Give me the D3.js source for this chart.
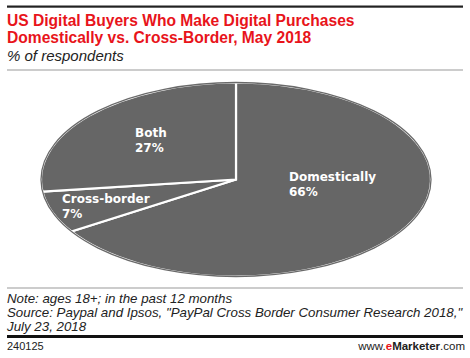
<!DOCTYPE html>
<html lang="en">
<head>
<meta charset="UTF-8">
<title>US Digital Buyers Who Make Digital Purchases</title>
<script src="https://d3js.org/d3.v7.min.js"></script>
<style>
  body { margin: 0; background: #fff; }
  svg { display: block; font-family: "Liberation Sans", Arial, sans-serif; }
</style>
</head>
<body>
<svg width="470" height="358"></svg>
<script>
  // data
  const categories = ["Domestically", "Cross-border", "Both"];
  const values = [66, 7, 27];
  const titleLines = ["US Digital Buyers Who Make Digital Purchases",
                      "Domestically vs. Cross-Border, May 2018"];
  const subtitle = "% of respondents";
  const notes = ["Note: ages 18+; in the past 12 months",
                 "Source: Paypal and Ipsos, \"PayPal Cross Border Consumer Research 2018,\"",
                 "July 23, 2018"];

  const svg = d3.select("svg");
  const W = 470;

  // header
  svg.append("rect").attr("x", 7).attr("y", 5.5).attr("width", W - 14).attr("height", 2.2).attr("fill", "#222");
  svg.selectAll(".title").data(titleLines).enter().append("text")
    .attr("x", 7).attr("y", (d, i) => 26 + i * 17)
    .attr("fill", "#e8141b").attr("font-weight", "bold").attr("font-size", "15.6px")
    .text(d => d);
  svg.append("text").attr("x", 7).attr("y", 61)
    .attr("font-style", "italic").attr("font-size", "15px").attr("fill", "#222")
    .text(subtitle);
  svg.append("rect").attr("x", 7).attr("y", 69.5).attr("width", W - 14).attr("height", 1).attr("fill", "#999");

  // pie (flattened into an ellipse)
  const cx = 236, cy = 179.5, rx = 195, ry = 97;
  const pie = d3.pie().sort(null).value(d => d);
  const arcs = pie(values);
  const arc = d3.arc().innerRadius(0).outerRadius(ry);

  const g = svg.append("g").attr("transform", `translate(${cx},${cy}) scale(${rx / ry},1)`);
  g.selectAll("path").data(arcs).enter().append("path")
    .attr("d", arc)
    .attr("fill", "#666666")
    .attr("stroke", "#fff").attr("stroke-width", 2.2)
    .attr("stroke-linejoin", "miter")
    .attr("vector-effect", "non-scaling-stroke");

  // outer edge redrawn without white border
  g.append("ellipse").attr("cx", 0).attr("cy", 0).attr("rx", ry).attr("ry", ry)
    .attr("fill", "none").attr("stroke", "#6a6a6a").attr("stroke-width", 1.3)
    .attr("vector-effect", "non-scaling-stroke");

  // label placement (left x, first baseline)
  const labelPos = { "Domestically": [289, 181], "Cross-border": [62, 203], "Both": [135, 137] };
  arcs.forEach((a, i) => {
    const [lx, ly] = labelPos[categories[i]];
    const t = svg.append("text").attr("x", lx).attr("y", ly)
      .attr("fill", "#fff").attr("font-weight", "bold").attr("font-size", "12px")
      .attr("font-family", "'DejaVu Sans', sans-serif");
    t.append("tspan").attr("x", lx).text(categories[i]);
    t.append("tspan").attr("x", lx).attr("dy", 15).text(values[i] + "%");
  });

  // footer
  svg.append("rect").attr("x", 7).attr("y", 287.5).attr("width", W - 14).attr("height", 1).attr("fill", "#999");
  svg.selectAll(".note").data(notes).enter().append("text")
    .attr("x", 7).attr("y", (d, i) => 303 + i * 13.8)
    .attr("font-style", "italic").attr("font-size", "13.3px").attr("fill", "#222")
    .text(d => d);
  svg.append("rect").attr("x", 7).attr("y", 335).attr("width", W - 14).attr("height", 3).attr("fill", "#111");
  svg.append("text").attr("x", 7).attr("y", 350).attr("font-size", "11px").attr("fill", "#222").text("240125");
  const brand = svg.append("text").attr("x", W - 5).attr("y", 350).attr("text-anchor", "end")
    .attr("font-size", "11.5px").attr("fill", "#222");
  brand.append("tspan").text("www.");
  brand.append("tspan").attr("fill", "#e8141b").attr("font-weight", "bold").text("e");
  brand.append("tspan").attr("font-weight", "bold").text("Marketer");
  brand.append("tspan").text(".com");
</script>
</body>
</html>
